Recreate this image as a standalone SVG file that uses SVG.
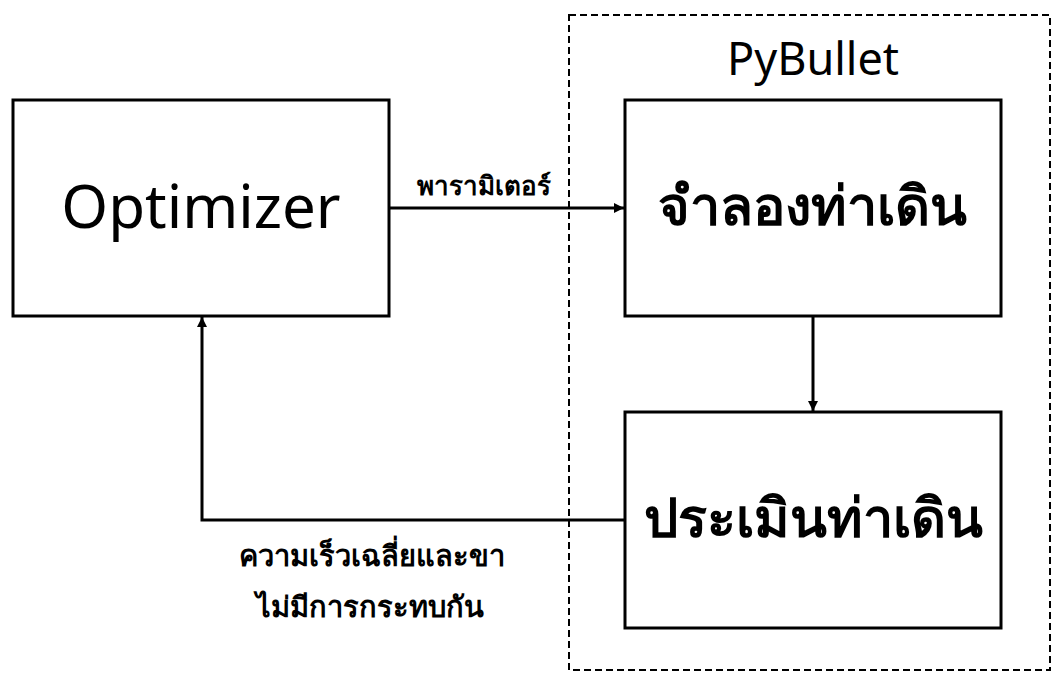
<svg xmlns="http://www.w3.org/2000/svg" width="1053" height="673" viewBox="0 0 1053 673">
<style>
.box{fill:#fff;stroke:#000;stroke-width:3}
.big{font-family:"Noto Sans","DejaVu Sans",sans-serif;font-size:60px;fill:#000;text-anchor:middle}
.thbig{font-family:"Noto Sans","DejaVu Sans",sans-serif;font-size:54px;font-weight:bold;fill:#000;text-anchor:middle}
.lbl{font-family:"Noto Sans","DejaVu Sans",sans-serif;font-size:26px;font-weight:bold;fill:#000;text-anchor:middle}
.lbl2{font-family:"Noto Sans","DejaVu Sans",sans-serif;font-size:29px;font-weight:bold;fill:#000;text-anchor:middle}
.line{fill:none;stroke:#000;stroke-width:3}
</style>
<defs>
<marker id="ah" markerWidth="10" markerHeight="10" refX="10" refY="5" orient="auto" markerUnits="userSpaceOnUse"><path d="M0,0 L10,5 L0,10 Z" fill="#000"/></marker>
</defs>
<rect x="0" y="0" width="1053" height="673" fill="#fff"/>
<g id="pybullet">
<rect x="569" y="15" width="481" height="655" fill="none" stroke="#000" stroke-width="2" stroke-dasharray="7,4"/>
<text x="813" y="75" style="font-family:'Noto Sans','DejaVu Sans',sans-serif;font-size:45px;fill:#000;text-anchor:middle">PyBullet</text>
</g>
<g id="optimizer">
<rect class="box" x="13" y="100" width="376" height="216"/>
<text class="big" x="201" y="228">Optimizer</text>
</g>
<g id="simulate">
<rect class="box" x="625" y="100" width="376" height="216"/>
<text class="thbig" x="812" y="225">จำลองท่าเดิน</text>
</g>
<g id="evaluate">
<rect class="box" x="625" y="412" width="376" height="216"/>
<text class="thbig" x="813" y="537">ประเมินท่าเดิน</text>
</g>
<g id="connectors">
<line class="line" x1="389" y1="208" x2="624" y2="208" marker-end="url(#ah)"/>
<line class="line" x1="813" y1="316" x2="813" y2="411" marker-end="url(#ah)"/>
<polyline class="line" points="625,520 202,520 202,317" marker-end="url(#ah)"/>
<text class="lbl" x="484" y="195">พารามิเตอร์</text>
<text class="lbl2" x="372" y="566">ความเร็วเฉลี่ยและขา</text>
<text class="lbl2" x="370" y="617">ไม่มีการกระทบกัน</text>
</g>
</svg>
